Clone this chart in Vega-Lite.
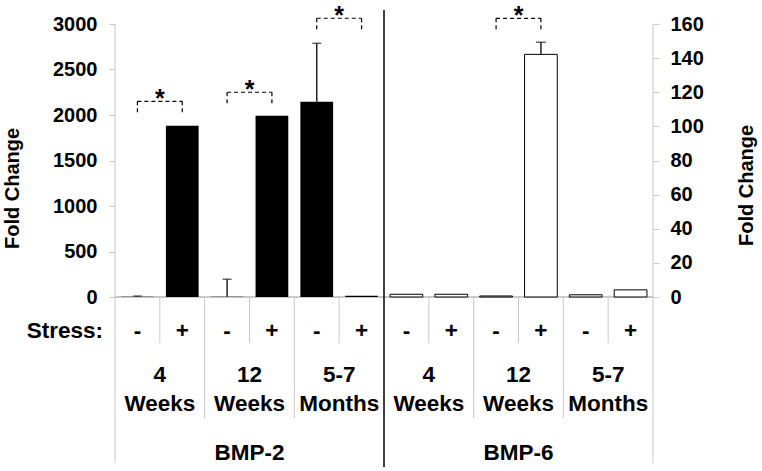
{
  "$schema": "https://vega.github.io/schema/vega-lite/v6.json",
  "width": 538,
  "height": 273,
  "autosize": {"type": "none"},
  "padding": {"left": 115, "top": 24, "right": 109, "bottom": 174},
  "background": "white",
  "config": {
    "view": {"stroke": null},
    "font": "Liberation Sans",
    "axis": {"labelOverlap": false},
    "axisY": {"labelOverlap": false},
    "text": {"font": "Liberation Sans", "fontWeight": "bold", "fontSize": 22.5, "color": "#000"}
  },
  "datasets": {
    "main": [
      {"slot": "BMP-2|4w|-", "gene": "BMP-2", "age": "4w", "stress": "-", "ageNum": "4", "ageUnit": "Weeks", "value": 2, "hi": 10},
      {"slot": "BMP-2|4w|+", "gene": "BMP-2", "age": "4w", "stress": "+", "ageNum": "4", "ageUnit": "Weeks", "value": 1882, "hi": null},
      {"slot": "BMP-2|12w|-", "gene": "BMP-2", "age": "12w", "stress": "-", "ageNum": "12", "ageUnit": "Weeks", "value": 2, "hi": 195},
      {"slot": "BMP-2|12w|+", "gene": "BMP-2", "age": "12w", "stress": "+", "ageNum": "12", "ageUnit": "Weeks", "value": 1992, "hi": null},
      {"slot": "BMP-2|5-7m|-", "gene": "BMP-2", "age": "5-7m", "stress": "-", "ageNum": "5-7", "ageUnit": "Months", "value": 2146, "hi": 2788},
      {"slot": "BMP-2|5-7m|+", "gene": "BMP-2", "age": "5-7m", "stress": "+", "ageNum": "5-7", "ageUnit": "Months", "value": 15, "hi": null},
      {"slot": "BMP-6|4w|-", "gene": "BMP-6", "age": "4w", "stress": "-", "ageNum": "4", "ageUnit": "Weeks", "value": 1.6, "hi": null},
      {"slot": "BMP-6|4w|+", "gene": "BMP-6", "age": "4w", "stress": "+", "ageNum": "4", "ageUnit": "Weeks", "value": 1.6, "hi": null},
      {"slot": "BMP-6|12w|-", "gene": "BMP-6", "age": "12w", "stress": "-", "ageNum": "12", "ageUnit": "Weeks", "value": 0.6, "hi": null},
      {"slot": "BMP-6|12w|+", "gene": "BMP-6", "age": "12w", "stress": "+", "ageNum": "12", "ageUnit": "Weeks", "value": 142.2, "hi": 149.3},
      {"slot": "BMP-6|5-7m|-", "gene": "BMP-6", "age": "5-7m", "stress": "-", "ageNum": "5-7", "ageUnit": "Months", "value": 1.3, "hi": null},
      {"slot": "BMP-6|5-7m|+", "gene": "BMP-6", "age": "5-7m", "stress": "+", "ageNum": "5-7", "ageUnit": "Months", "value": 4.2, "hi": null}
    ],
    "sig": [
      {"gene": "BMP-2", "left": "BMP-2|4w|-", "right": "BMP-2|4w|+", "top": 2150, "leg": 2000},
      {"gene": "BMP-2", "left": "BMP-2|12w|-", "right": "BMP-2|12w|+", "top": 2250, "leg": 2102},
      {"gene": "BMP-2", "left": "BMP-2|5-7m|-", "right": "BMP-2|5-7m|+", "top": 3063, "leg": 2917},
      {"gene": "BMP-6", "left": "BMP-6|12w|-", "right": "BMP-6|12w|+", "top": 163.3, "leg": 155.5}
    ]
  },
  "data": {"name": "main"},
  "layer": [
    {
      "layer": [
        {
          "mark": {"type": "rule", "color": "#c8c8c8", "strokeWidth": 1},
          "encoding": {
            "x": {"field": "slot", "type": "nominal", "bandPosition": 0,
              "scale": {"domain": ["BMP-2|4w|-","BMP-2|4w|+","BMP-2|12w|-","BMP-2|12w|+","BMP-2|5-7m|-","BMP-2|5-7m|+","BMP-6|4w|-","BMP-6|4w|+","BMP-6|12w|-","BMP-6|12w|+","BMP-6|5-7m|-","BMP-6|5-7m|+"], "paddingInner": 0, "paddingOuter": 0},
              "axis": null},
            "y": {"datum": 0, "type": "quantitative",
              "scale": {"domain": [0, 3000], "nice": false, "zero": false},
              "axis": {"orient": "left", "values": [0, 500, 1000, 1500, 2000, 2500, 3000], "format": "d", "title": "Fold Change",
                "titleFont": "Liberation Sans", "titleFontSize": 20, "titleFontWeight": "bold", "titleColor": "#000",
                "labelFont": "Liberation Sans", "labelFontSize": 20, "labelFontWeight": "bold", "labelColor": "#000",
                "labelOverlap": false,
                "tickColor": "#c8c8c8", "tickSize": 6, "labelPadding": 12, "domain": false, "grid": false,
                "titlePadding": 30, "titleY": 164}},
            "y2": {"datum": -505}
          },
          "transform": [{"filter": "datum.stress == '+'"}]
        },
        {
          "mark": {"type": "rule", "color": "#c8c8c8", "strokeWidth": 1},
          "transform": [{"filter": "datum.stress == '-' && datum.age != '4w'"}],
          "encoding": {
            "x": {"field": "slot", "type": "nominal", "bandPosition": 0},
            "y": {"datum": 0, "type": "quantitative"},
            "y2": {"datum": -1330}
          }
        },
        {
          "mark": {"type": "rule", "color": "#c8c8c8", "strokeWidth": 1},
          "transform": [{"filter": "datum.slot == 'BMP-2|4w|-'"}],
          "encoding": {
            "x": {"field": "slot", "type": "nominal", "bandPosition": 0},
            "y": {"datum": 3000, "type": "quantitative"},
            "y2": {"datum": -1824}
          }
        },
        {
          "mark": {"type": "rule", "color": "#c8c8c8", "strokeWidth": 1},
          "transform": [{"filter": "datum.slot == 'BMP-6|5-7m|+'"}],
          "encoding": {
            "x": {"field": "slot", "type": "nominal", "bandPosition": 1},
            "y": {"datum": 3000, "type": "quantitative"},
            "y2": {"datum": -1824}
          }
        },
        {
          "mark": {"type": "rule", "color": "#c8c8c8", "strokeWidth": 1},
          "encoding": {
            "y": {"datum": 0, "type": "quantitative"}
          }
        },
        {
          "mark": {"type": "rule", "color": "#000", "strokeWidth": 1.5},
          "transform": [{"filter": "datum.slot == 'BMP-6|4w|-'"}],
          "encoding": {
            "x": {"field": "slot", "type": "nominal", "bandPosition": 0},
            "y": {"datum": 3154, "type": "quantitative"},
            "y2": {"datum": -1868}
          }
        },
        {
          "mark": {"type": "bar", "color": "#000", "width": {"band": 0.73}},
          "transform": [{"filter": "datum.gene == 'BMP-2'"}],
          "encoding": {
            "x": {"field": "slot", "type": "nominal"},
            "y": {"field": "value", "type": "quantitative"}
          }
        },
        {
          "mark": {"type": "rule", "color": "#222", "strokeWidth": 1.5},
          "transform": [{"filter": "datum.gene == 'BMP-2' && isValid(datum.hi)"}],
          "encoding": {
            "x": {"field": "slot", "type": "nominal"},
            "y": {"field": "value", "type": "quantitative"},
            "y2": {"field": "hi"}
          }
        },
        {
          "mark": {"type": "tick", "color": "#222", "orient": "horizontal", "size": 9, "thickness": 1.5},
          "transform": [{"filter": "datum.gene == 'BMP-2' && isValid(datum.hi)"}],
          "encoding": {
            "x": {"field": "slot", "type": "nominal"},
            "y": {"field": "hi", "type": "quantitative"}
          }
        },
        {
          "mark": {"type": "text", "baseline": "middle", "align": "center"},
          "encoding": {
            "x": {"field": "slot", "type": "nominal"},
            "y": {"datum": -370, "type": "quantitative"},
            "text": {"field": "stress"}
          }
        },
        {
          "mark": {"type": "text", "baseline": "middle", "align": "right", "dx": -12},
          "transform": [{"filter": "datum.slot == 'BMP-2|4w|-'"}],
          "encoding": {
            "x": {"field": "slot", "type": "nominal", "bandPosition": 0},
            "y": {"datum": -370, "type": "quantitative"},
            "text": {"value": "Stress:"}
          }
        },
        {
          "mark": {"type": "text", "baseline": "middle", "align": "center"},
          "transform": [{"filter": "datum.stress == '+'"}],
          "encoding": {
            "x": {"field": "slot", "type": "nominal", "bandPosition": 0},
            "y": {"datum": -857, "type": "quantitative"},
            "text": {"field": "ageNum"}
          }
        },
        {
          "mark": {"type": "text", "baseline": "middle", "align": "center"},
          "transform": [{"filter": "datum.stress == '+'"}],
          "encoding": {
            "x": {"field": "slot", "type": "nominal", "bandPosition": 0},
            "y": {"datum": -1176, "type": "quantitative"},
            "text": {"field": "ageUnit"}
          }
        },
        {
          "mark": {"type": "text", "baseline": "middle", "align": "center"},
          "transform": [{"filter": "datum.age == '12w' && datum.stress == '+'"}],
          "encoding": {
            "x": {"field": "slot", "type": "nominal", "bandPosition": 0},
            "y": {"datum": -1710, "type": "quantitative"},
            "text": {"field": "gene"}
          }
        },
        {
          "data": {"name": "sig"},
          "transform": [{"filter": "datum.gene == 'BMP-2'"}],
          "mark": {"type": "rule", "color": "#000", "strokeWidth": 1.2, "strokeDash": [4, 3]},
          "encoding": {
            "x": {"field": "left", "type": "nominal"},
            "x2": {"field": "right"},
            "y": {"field": "top", "type": "quantitative"}
          }
        },
        {
          "data": {"name": "sig"},
          "transform": [{"filter": "datum.gene == 'BMP-2'"}],
          "mark": {"type": "rule", "color": "#000", "strokeWidth": 1.2, "strokeDash": [4, 3]},
          "encoding": {
            "x": {"field": "left", "type": "nominal"},
            "y": {"field": "top", "type": "quantitative"},
            "y2": {"field": "leg"}
          }
        },
        {
          "data": {"name": "sig"},
          "transform": [{"filter": "datum.gene == 'BMP-2'"}],
          "mark": {"type": "rule", "color": "#000", "strokeWidth": 1.2, "strokeDash": [4, 3]},
          "encoding": {
            "x": {"field": "right", "type": "nominal"},
            "y": {"field": "top", "type": "quantitative"},
            "y2": {"field": "leg"}
          }
        },
        {
          "data": {"name": "sig"},
          "transform": [{"filter": "datum.gene == 'BMP-2'"}],
          "mark": {"type": "text", "baseline": "alphabetic", "align": "center", "dy": 6, "fontSize": 25, "text": "*"},
          "encoding": {
            "x": {"field": "right", "type": "nominal", "bandPosition": 0},
            "y": {"field": "top", "type": "quantitative"}
          }
        }
      ]
    },
    {
      "layer": [
        {
          "mark": {"type": "bar", "fill": "#fff", "stroke": "#000", "strokeWidth": 1, "width": {"band": 0.73}},
          "transform": [{"filter": "datum.gene == 'BMP-6'"}],
          "encoding": {
            "x": {"field": "slot", "type": "nominal"},
            "y": {"field": "value", "type": "quantitative",
              "scale": {"domain": [0, 160], "nice": false, "zero": false},
              "axis": {"orient": "right", "tickCount": 8, "format": "d", "title": "Fold Change",
                "titleFont": "Liberation Sans", "titleFontSize": 20, "titleFontWeight": "bold", "titleColor": "#000",
                "titleAngle": 270,
                "labelFont": "Liberation Sans", "labelFontSize": 20, "labelFontWeight": "bold", "labelColor": "#000",
                "labelOverlap": false, "labelSeparation": 0, "labelBound": false,
                "tickColor": "#c8c8c8", "tickSize": 6, "labelPadding": 11, "domain": false, "grid": false,
                "titlePadding": 53, "titleY": 161}}
          }
        },
        {
          "mark": {"type": "rule", "color": "#222", "strokeWidth": 1.5},
          "transform": [{"filter": "datum.gene == 'BMP-6' && isValid(datum.hi)"}],
          "encoding": {
            "x": {"field": "slot", "type": "nominal"},
            "y": {"field": "value", "type": "quantitative"},
            "y2": {"field": "hi"}
          }
        },
        {
          "mark": {"type": "tick", "color": "#222", "orient": "horizontal", "size": 10, "thickness": 1.5},
          "transform": [{"filter": "datum.gene == 'BMP-6' && isValid(datum.hi)"}],
          "encoding": {
            "x": {"field": "slot", "type": "nominal"},
            "y": {"field": "hi", "type": "quantitative"}
          }
        },
        {
          "data": {"name": "sig"},
          "transform": [{"filter": "datum.gene == 'BMP-6'"}],
          "mark": {"type": "rule", "color": "#000", "strokeWidth": 1.2, "strokeDash": [4, 3]},
          "encoding": {
            "x": {"field": "left", "type": "nominal"},
            "x2": {"field": "right"},
            "y": {"field": "top", "type": "quantitative"}
          }
        },
        {
          "data": {"name": "sig"},
          "transform": [{"filter": "datum.gene == 'BMP-6'"}],
          "mark": {"type": "rule", "color": "#000", "strokeWidth": 1.2, "strokeDash": [4, 3]},
          "encoding": {
            "x": {"field": "left", "type": "nominal"},
            "y": {"field": "top", "type": "quantitative"},
            "y2": {"field": "leg"}
          }
        },
        {
          "data": {"name": "sig"},
          "transform": [{"filter": "datum.gene == 'BMP-6'"}],
          "mark": {"type": "rule", "color": "#000", "strokeWidth": 1.2, "strokeDash": [4, 3]},
          "encoding": {
            "x": {"field": "right", "type": "nominal"},
            "y": {"field": "top", "type": "quantitative"},
            "y2": {"field": "leg"}
          }
        },
        {
          "data": {"name": "sig"},
          "transform": [{"filter": "datum.gene == 'BMP-6'"}],
          "mark": {"type": "text", "baseline": "alphabetic", "align": "center", "dy": 6, "fontSize": 25, "text": "*"},
          "encoding": {
            "x": {"field": "right", "type": "nominal", "bandPosition": 0},
            "y": {"field": "top", "type": "quantitative"}
          }
        }
      ]
    }
  ],
  "resolve": {"scale": {"y": "independent"}, "axis": {"y": "independent"}}
}
